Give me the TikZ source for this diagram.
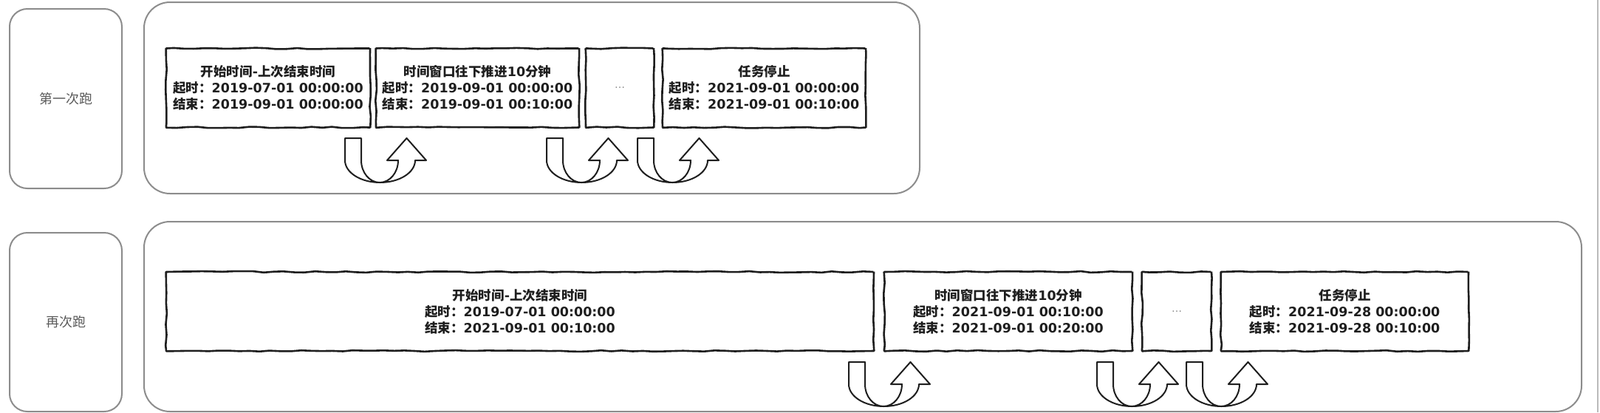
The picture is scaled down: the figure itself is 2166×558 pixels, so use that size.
\documentclass[tikz,border=0pt]{standalone}
\usepackage{fontspec}
\setmainfont{DejaVu Sans}
\newfontfamily\cjk{Noto Sans CJK SC}
\usetikzlibrary{decorations.pathmorphing}
\definecolor{cframe}{HTML}{8C8C8C}
\definecolor{cink}{HTML}{1E1E1E}
\definecolor{clabel}{HTML}{5A5A5A}
\newcommand{\zh}[1]{{\cjk #1}}
\tikzset{
  every picture/.style={x=1pt, y=-1pt},
  frame/.style={draw=cframe, line width=2pt, rounded corners=#1, inner sep=0pt},
  frame/.default=26pt,
  sketch/.style={draw=cink, line width=2.6pt, decorate, decoration={random steps, segment length=14pt, amplitude=.9pt},
    rounded corners=.6pt, text=cink, align=center, inner sep=0pt, minimum height=107pt, font=\fontsize{17.5}{22}\selectfont\bfseries},
  uturn/.pic={
    \draw[cink, line width=2pt, line join=round]
      (0,0) -- (0,30) arc[start angle=180, end angle=360, x radius=47.5pt, y radius=30pt]
      -- (110,30) -- (83.5,0) -- (57,30) -- (72,30)
      arc[start angle=0, end angle=-180, x radius=25pt, y radius=30pt] -- (22,0) -- cycle;
  },
}

\begin{document}
\begin{tikzpicture}[
  lbl/.style={frame=24pt, minimum width=152pt, text=clabel, font=\fontsize{18}{20}\selectfont\cjk},
  dots/.style={sketch, text=cframe, font=\fontsize{14}{14}\selectfont}]
  \useasboundingbox (0,0) rectangle (2166,558);
  % first run
  \node[lbl, minimum height=243pt] (lab1) at (89,133.5) {第一次跑};
  \node[frame=35pt, minimum width=1050pt, minimum height=259pt] (run1) at (720,132.5) {};
  \node[sketch, minimum width=276pt] (a1) at (363,119) {\zh{开始时间}-\zh{上次结束时间}\\\zh{起时：}2019-07-01 00:00:00\\\zh{结束：}2019-09-01 00:00:00};
  \node[sketch, minimum width=275pt] (b1) at (646.5,119) {\zh{时间窗口往下推进}10\zh{分钟}\\\zh{起时：}2019-09-01 00:00:00\\\zh{结束：}2019-09-01 00:10:00};
  \node[dots, minimum width=92pt] (c1) at (839,119) {\ldots};
  \node[sketch, minimum width=275pt] (d1) at (1034.5,119) {\zh{任务停止}\\\zh{起时：}2021-09-01 00:00:00\\\zh{结束：}2021-09-01 00:10:00};
  \pic at (467,187) {uturn};
  \pic at (740,187) {uturn};
  \pic at (863,187) {uturn};
  % second run
  \node[lbl, minimum height=242pt] (lab2) at (89,436) {再次跑};
  \node[frame=35pt, minimum width=1946pt, minimum height=257pt] (run2) at (1168,428.5) {};
  \node[sketch, minimum width=958pt] (a2) at (704,421.5) {\zh{开始时间}-\zh{上次结束时间}\\\zh{起时：}2019-07-01 00:00:00\\\zh{结束：}2021-09-01 00:10:00};
  \node[sketch, minimum width=336pt] (b2) at (1365,421.5) {\zh{时间窗口往下推进}10\zh{分钟}\\\zh{起时：}2021-09-01 00:10:00\\\zh{结束：}2021-09-01 00:20:00};
  \node[dots, minimum width=94pt] (c2) at (1593,421.5) {\ldots};
  \node[sketch, minimum width=335pt] (d2) at (1820.5,421.5) {\zh{任务停止}\\\zh{起时：}2021-09-28 00:00:00\\\zh{结束：}2021-09-28 00:10:00};
  \pic at (1149,490) {uturn};
  \pic at (1485,490) {uturn};
  \pic at (1606,490) {uturn};
  % page edge
  \draw[cframe!60, line width=2pt] (2163,0) -- (2163,558);
\end{tikzpicture}
\end{document}
